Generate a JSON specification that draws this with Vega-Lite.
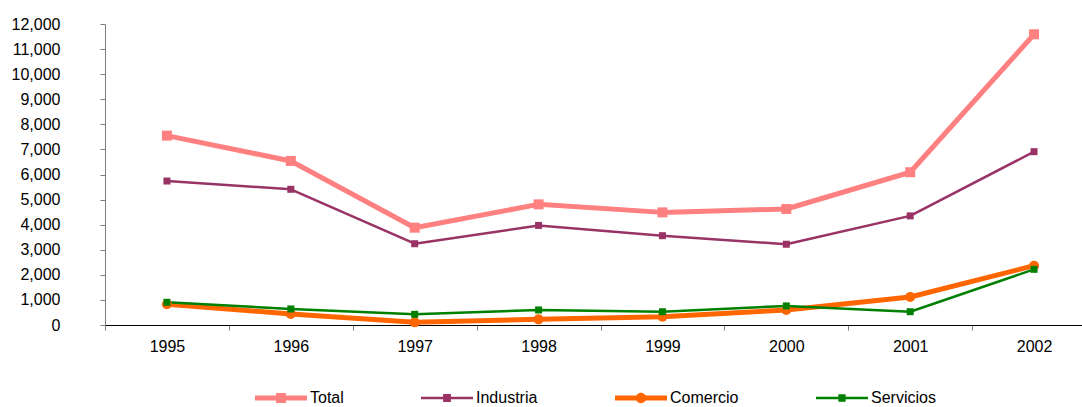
{
  "$schema": "https://vega.github.io/schema/vega-lite/v6.json",
  "autosize": "none",
  "width": 977,
  "height": 301,
  "padding": {"left": 105, "top": 24, "right": 0, "bottom": 82},
  "background": "white",
  "config": {"view": {"stroke": null}, "font": "Liberation Sans"},
  "data": {
    "values": [
      {"year": "1995", "series": "Total", "value": 7550},
      {"year": "1996", "series": "Total", "value": 6540},
      {"year": "1997", "series": "Total", "value": 3880},
      {"year": "1998", "series": "Total", "value": 4810},
      {"year": "1999", "series": "Total", "value": 4490},
      {"year": "2000", "series": "Total", "value": 4625},
      {"year": "2001", "series": "Total", "value": 6090},
      {"year": "2002", "series": "Total", "value": 11590},
      {"year": "1995", "series": "Industria", "value": 5740},
      {"year": "1996", "series": "Industria", "value": 5410},
      {"year": "1997", "series": "Industria", "value": 3240},
      {"year": "1998", "series": "Industria", "value": 3970},
      {"year": "1999", "series": "Industria", "value": 3560},
      {"year": "2000", "series": "Industria", "value": 3220},
      {"year": "2001", "series": "Industria", "value": 4350},
      {"year": "2002", "series": "Industria", "value": 6910},
      {"year": "1995", "series": "Comercio", "value": 825},
      {"year": "1996", "series": "Comercio", "value": 440},
      {"year": "1997", "series": "Comercio", "value": 105},
      {"year": "1998", "series": "Comercio", "value": 225},
      {"year": "1999", "series": "Comercio", "value": 330},
      {"year": "2000", "series": "Comercio", "value": 600},
      {"year": "2001", "series": "Comercio", "value": 1115},
      {"year": "2002", "series": "Comercio", "value": 2365},
      {"year": "1995", "series": "Servicios", "value": 905},
      {"year": "1996", "series": "Servicios", "value": 640},
      {"year": "1997", "series": "Servicios", "value": 425},
      {"year": "1998", "series": "Servicios", "value": 600},
      {"year": "1999", "series": "Servicios", "value": 530},
      {"year": "2000", "series": "Servicios", "value": 760},
      {"year": "2001", "series": "Servicios", "value": 530},
      {"year": "2002", "series": "Servicios", "value": 2220}
    ]
  },
  "encoding": {
    "x": {
      "field": "year",
      "type": "ordinal",
      "scale": {"type": "band", "domain": ["1995","1996","1997","1998","1999","2000","2001","2002"], "range": [0, 991], "paddingInner": 0, "paddingOuter": 0},
      "axis": {"title": null, "labelAngle": 0, "tickBand": "extent", "labelFontSize": 16, "labelFont": "Liberation Sans", "labelColor": "black", "domainColor": "black", "tickColor": "#808080", "tickSize": 5, "labelPadding": 8, "grid": false}
    },
    "y": {
      "field": "value",
      "type": "quantitative",
      "scale": {"domain": [0, 12000], "nice": false, "zero": true},
      "axis": {"title": null, "values": [0,1000,2000,3000,4000,5000,6000,7000,8000,9000,10000,11000,12000], "format": ",d", "grid": false, "domainColor": "#808080", "tickColor": "#808080", "tickSize": 5, "labelPadding": 40, "labelFontSize": 16, "labelFont": "Liberation Sans", "labelColor": "black"}
    }
  },
  "layer": [
    {
      "transform": [{"filter": {"field": "series", "oneOf": ["Total", "Comercio"]}}],
      "mark": {"type": "line", "strokeWidth": 5, "strokeJoin": "round", "strokeCap": "round"},
      "encoding": {
        "color": {"field": "series", "type": "nominal", "scale": {"domain": ["Servicios","Comercio","Industria","Total"], "range": ["#008000","#FF6600","#993366","#FF8080"]}, "legend": null}
      }
    },
    {
      "transform": [{"filter": {"field": "series", "oneOf": ["Industria", "Servicios"]}}],
      "mark": {"type": "line", "strokeWidth": 2.5, "strokeJoin": "round"},
      "encoding": {
        "color": {"field": "series", "type": "nominal", "scale": {"domain": ["Servicios","Comercio","Industria","Total"], "range": ["#008000","#FF6600","#993366","#FF8080"]}, "legend": null}
      }
    },
    {
      "transform": [{"filter": {"field": "series", "equal": "Total"}}],
      "mark": {"type": "point", "filled": true, "opacity": 1, "shape": "square", "size": 100},
      "encoding": {
        "color": {"field": "series", "type": "nominal", "scale": {"domain": ["Servicios","Comercio","Industria","Total"], "range": ["#008000","#FF6600","#993366","#FF8080"]}, "legend": null}
      }
    },
    {
      "transform": [{"filter": {"field": "series", "equal": "Industria"}}],
      "mark": {"type": "point", "filled": true, "opacity": 1, "shape": "square", "size": 49},
      "encoding": {
        "color": {"field": "series", "type": "nominal", "scale": {"domain": ["Servicios","Comercio","Industria","Total"], "range": ["#008000","#FF6600","#993366","#FF8080"]}, "legend": null}
      }
    },
    {
      "transform": [{"filter": {"field": "series", "equal": "Comercio"}}],
      "mark": {"type": "point", "filled": true, "opacity": 1, "shape": "circle", "size": 100},
      "encoding": {
        "color": {"field": "series", "type": "nominal", "scale": {"domain": ["Servicios","Comercio","Industria","Total"], "range": ["#008000","#FF6600","#993366","#FF8080"]}, "legend": null}
      }
    },
    {
      "transform": [{"filter": {"field": "series", "equal": "Servicios"}}],
      "mark": {"type": "point", "filled": true, "opacity": 1, "shape": "square", "size": 49},
      "encoding": {
        "color": {"field": "series", "type": "nominal", "scale": {"domain": ["Servicios","Comercio","Industria","Total"], "range": ["#008000","#FF6600","#993366","#FF8080"]}, "legend": null}
      }
    },
    {
      "transform": [{"filter": "datum.value < 0"}],
      "mark": {"type": "point", "filled": true, "size": 2704, "opacity": 1, "strokeWidth": 0},
      "encoding": {
        "fill": {"field": "series", "type": "nominal", "scale": {"domain": ["Total","Industria","Comercio","Servicios"], "range": ["#FF8080","#993366","#FF6600","#008000"]},
          "legend": {"title": null, "orient": "none", "legendX": 150, "legendY": 348, "direction": "horizontal", "symbolSize": 2704, "symbolStrokeWidth": 0, "labelFontSize": 16, "labelFont": "Liberation Sans", "labelColor": "black", "labelOffset": 3, "columnPadding": 77, "padding": 0}},
        "shape": {"field": "series", "type": "nominal", "scale": {"domain": ["Total","Industria","Comercio","Servicios"], "range": [
            "M-1,-0.1H1V0.1H-1ZM-0.19,-0.19H0.19V0.19H-0.19Z",
            "M-1,-0.048H1V0.048H-1ZM-0.15,-0.15H0.15V0.15H-0.15Z",
            "M-1,-0.1H1V0.1H-1ZM0.2,0A0.2,0.2 0 1,1 -0.2,0A0.2,0.2 0 1,1 0.2,0Z",
            "M-1,-0.048H1V0.048H-1ZM-0.14,-0.14H0.14V0.14H-0.14Z"
          ]},
          "legend": {"title": null, "orient": "none", "legendX": 150, "legendY": 348, "direction": "horizontal", "symbolSize": 2704, "symbolStrokeWidth": 0, "labelFontSize": 16, "labelFont": "Liberation Sans", "labelColor": "black", "labelOffset": 3, "columnPadding": 77, "padding": 0}}
      }
    }
  ]
}
